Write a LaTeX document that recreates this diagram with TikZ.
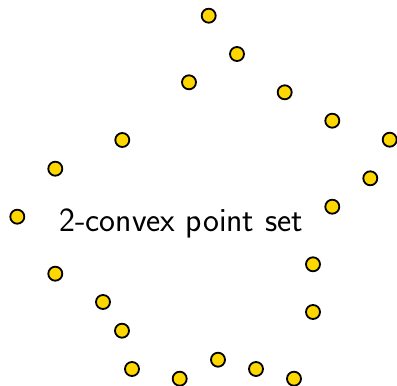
\documentclass[tikz,border=0pt]{standalone}
\usepackage{fontspec}
\newfontfamily\lmssxvii{lmsans17-regular.otf}
\definecolor{ptgold}{RGB}{255,215,0}
\tikzset{
  pt/.style={circle, draw=black, fill=ptgold, line width=1.8pt, minimum size=14pt, inner sep=0pt},
  lbl/.style={font=\lmssxvii\fontsize{33.8}{40}\selectfont, inner sep=0pt, anchor=base}
}
\begin{document}
\begin{tikzpicture}[x=1pt,y=1pt]
\useasboundingbox (0,0) rectangle (397,386);
\node[pt] (p1) at (208.7,370.3) {};
\node[pt] (p2) at (237,332) {};
\node[pt] (p3) at (189,303.7) {};
\node[pt] (p4) at (284.7,293.7) {};
\node[pt] (p5) at (332.3,265.3) {};
\node[pt] (p6) at (389.7,246.3) {};
\node[pt] (p7) at (122.3,246) {};
\node[pt] (p8) at (370.3,207.7) {};
\node[pt] (p9) at (55.3,217.3) {};
\node[pt] (p10) at (17.3,169.3) {};
\node[pt] (p11) at (332.3,179.3) {};
\node[pt] (p12) at (313,121.7) {};
\node[pt] (p13) at (55.3,112.3) {};
\node[pt] (p14) at (313,74) {};
\node[pt] (p15) at (103,84) {};
\node[pt] (p16) at (122,55.3) {};
\node[pt] (p17) at (132,17) {};
\node[pt] (p18) at (179.7,7.3) {};
\node[pt] (p19) at (218,26.3) {};
\node[pt] (p20) at (256,17) {};
\node[pt] (p21) at (294,7.3) {};
\node[lbl] (title) at (181,154) {2-convex point set};
\end{tikzpicture}
\end{document}
